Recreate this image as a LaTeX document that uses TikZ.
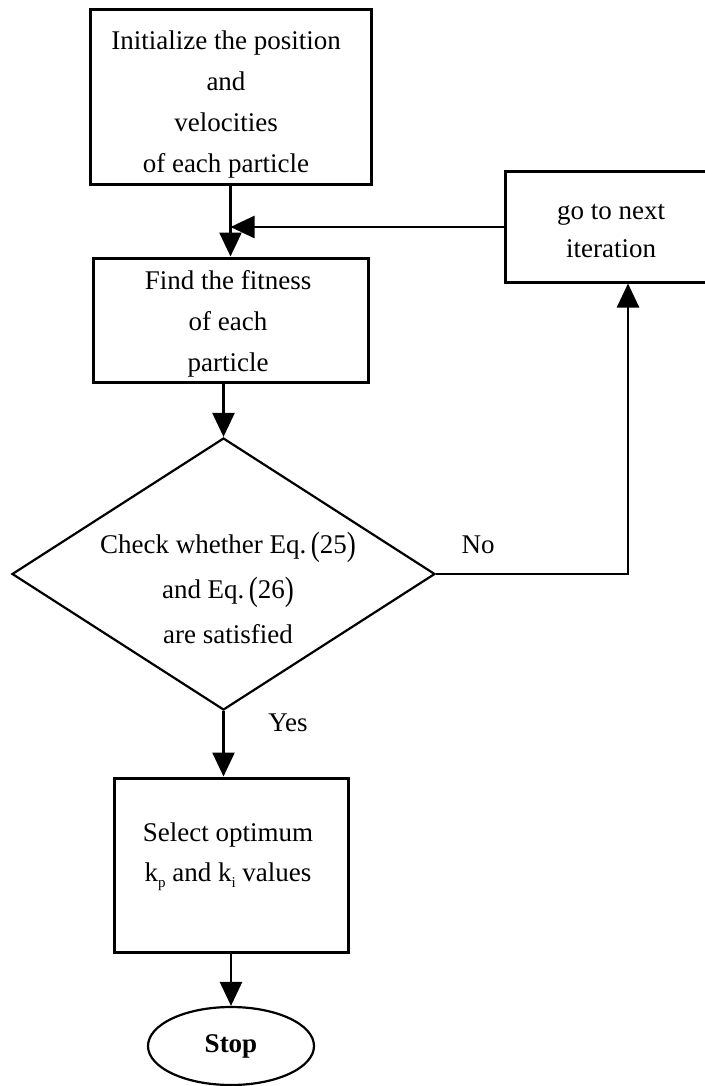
\documentclass[tikz,border=0pt]{standalone}
\usepackage{fontspec}
\setmainfont{Liberation Serif}
\usetikzlibrary{shapes.geometric,arrows.meta}
\newcommand{\myLP}{\raisebox{-1.5pt}{\scalebox{1}[1.25]{(}}}
\newcommand{\myRP}{\raisebox{-1.5pt}{\scalebox{1}[1.25]{)}}}
\newcommand{\mysub}[1]{\raisebox{-6pt}{\fontsize{15}{15}\selectfont #1}}
\begin{document}
\begin{tikzpicture}[x=1pt,y=-1pt,
  box/.style={draw=black, line width=3pt, inner sep=0pt},
  txt/.style={align=center, inner sep=0pt, font=\fontsize{27}{41}\selectfont},
  conn/.style={line width=2.5pt, -{Triangle[length=24pt,width=22pt]}},
  lbl/.style={inner sep=0pt, font=\fontsize{27}{27}\selectfont}]
\useasboundingbox (0,0) rectangle (704,1086);
\fill[white] (0,0) rectangle (704,1086);

\node[box, minimum width=281pt, minimum height=175pt] (init) at (230.5,97.5) {};
\node[txt] (initT) at (226,105) {Initialize the position\\and\\velocities\\of each particle};

\node[box, minimum width=275pt, minimum height=124pt] (fit) at (230.5,320) {};
\node[txt] (fitT) at (228,324) {Find the fitness\\of each\\ particle};

\node[box, minimum width=214pt, minimum height=110pt] (next) at (612,227) {};
\node[txt, font=\fontsize{27}{38}\selectfont] (nextT) at (611,231) {go to next\\iteration};

\node[draw=black, diamond, line width=2.2pt, minimum width=423pt, minimum height=272pt, inner sep=0pt] (dia) at (223.5,574) {};
\node[txt, font=\fontsize{27}{45}\selectfont] (diaT) at (228,588) {Check whether Eq.\,\myLP25\myRP\\and Eq.\,\myLP26\myRP\\are satisfied};

\node[box, minimum width=234pt, minimum height=174pt] (sel) at (231,865) {};
\node[txt, font=\fontsize{27}{40}\selectfont] (selT) at (228,857) {Select optimum\\k\mysub{p} and k\mysub{i} values};

\node[draw=black, ellipse, line width=2.2pt, minimum width=166pt, minimum height=78pt, inner sep=0pt, font=\fontsize{27}{27}\selectfont\bfseries] (stop) at (231,1046) {Stop};

\draw[conn] (init.south) -- (fit.north);
\draw[conn] (next.west) -- (next.west -| init.south);
\draw[conn] (dia.north |- fit.south) -- (dia.north);
\draw[conn] (dia.east) -| ([xshift=16pt]next.south);
\draw[conn] (dia.south) -- (dia.south |- sel.north);
\draw[conn] (sel.south) -- (stop.north);

\node[lbl] (no) at (478,545) {No};
\node[lbl] (yes) at (288,723) {Yes};
\end{tikzpicture}
\end{document}
